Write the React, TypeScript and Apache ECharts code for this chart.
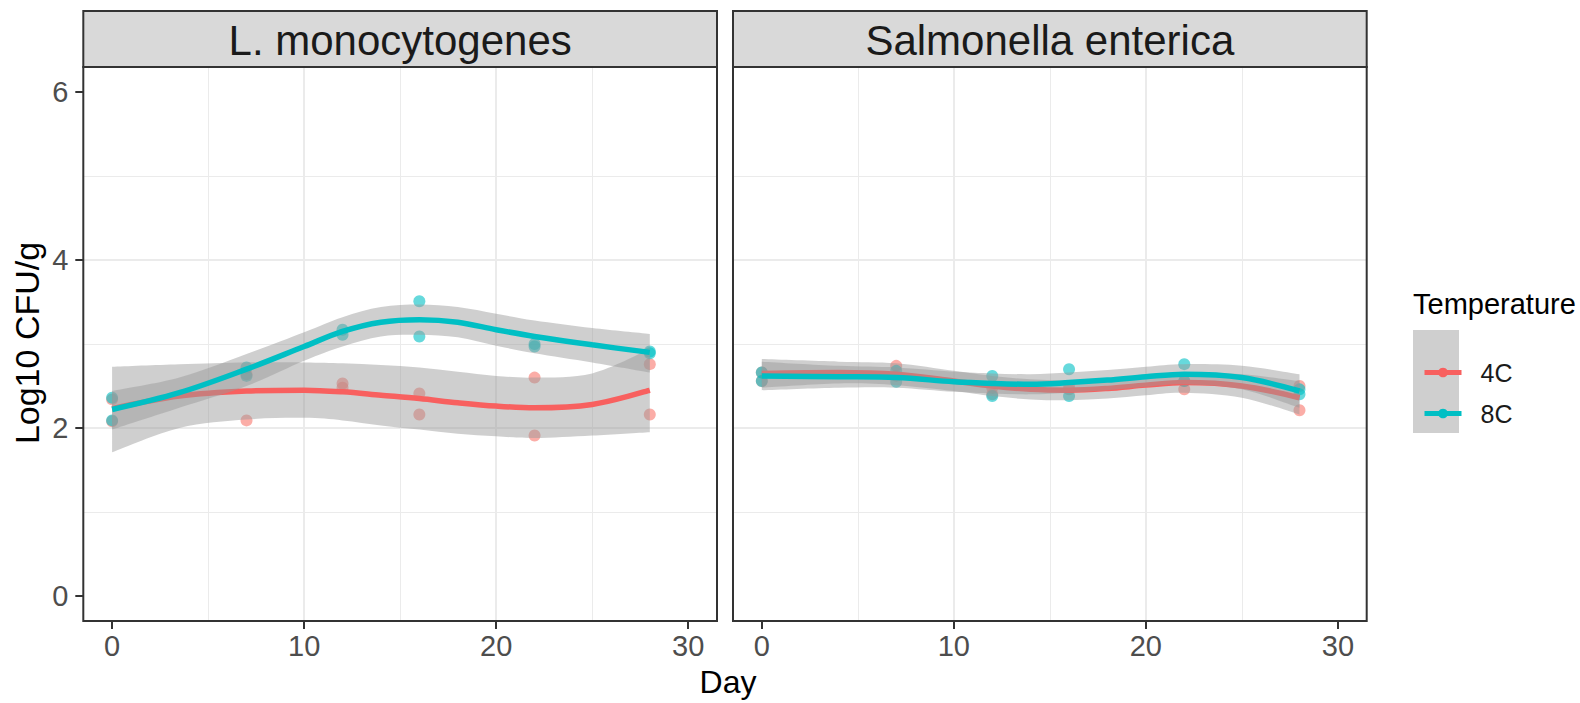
import React, { useEffect, useRef } from 'react';
import * as echarts from 'echarts';

// ---------- data ----------
const panels = ['L. monocytogenes', 'Salmonella enterica'];
const temperatures = ['4C', '8C'];
const xTicks = [0, 10, 20, 30];
const yTicks = [0, 2, 4, 6];
const xMinorTicks = [5, 15, 25];
const yMinorTicks = [1, 3, 5];

// observed points (two replicates per sampling day)
const pointDays = [0, 0, 7, 7, 12, 12, 16, 16, 22, 22, 28, 28];
const lm4Points = [2.34, 2.08, 2.09, 2.64, 2.53, 2.48, 2.41, 2.16, 2.60, 1.91, 2.76, 2.16];
const lm8Points = [2.36, 2.09, 2.72, 2.62, 3.17, 3.11, 3.51, 3.09, 3.00, 2.97, 2.91, 2.89];
const se4Points = [2.66, 2.56, 2.74, 2.62, 2.48, 2.40, 2.46, 2.50, 2.46, 2.56, 2.50, 2.21];
const se8Points = [2.66, 2.56, 2.68, 2.55, 2.62, 2.38, 2.70, 2.38, 2.76, 2.56, 2.46, 2.40];

// loess fits with confidence band
const lmFitDays = [0, 3.5, 7, 10, 12, 14, 16, 18, 20, 22, 25, 28];
const lm4Fit = [2.23, 2.38, 2.44, 2.45, 2.43, 2.39, 2.35, 2.30, 2.26, 2.24, 2.28, 2.45];
const lm4Lo = [1.71, 2.00, 2.10, 2.12, 2.09, 2.03, 1.98, 1.93, 1.90, 1.88, 1.91, 1.95];
const lm4Hi = [2.73, 2.76, 2.78, 2.78, 2.77, 2.75, 2.72, 2.67, 2.62, 2.60, 2.65, 2.94];
const lm8Fit = [2.22, 2.42, 2.70, 2.97, 3.15, 3.26, 3.29, 3.26, 3.17, 3.09, 2.99, 2.90];
const lm8Lo = [1.98, 2.24, 2.50, 2.80, 2.97, 3.09, 3.11, 3.08, 2.98, 2.89, 2.78, 2.66];
const lm8Hi = [2.44, 2.60, 2.88, 3.14, 3.32, 3.44, 3.47, 3.44, 3.36, 3.28, 3.19, 3.12];

const seFitDays = [0, 4, 7, 10, 12, 14, 16, 18, 20, 22, 25, 28];
const se4Fit = [2.65, 2.66, 2.64, 2.56, 2.50, 2.46, 2.45, 2.47, 2.51, 2.54, 2.50, 2.36];
const se4Lo = [2.48, 2.53, 2.51, 2.44, 2.38, 2.34, 2.33, 2.35, 2.39, 2.42, 2.36, 2.16];
const se4Hi = [2.82, 2.79, 2.77, 2.68, 2.62, 2.58, 2.57, 2.59, 2.63, 2.66, 2.64, 2.56];
const se8Fit = [2.62, 2.61, 2.60, 2.55, 2.53, 2.52, 2.54, 2.57, 2.61, 2.64, 2.60, 2.44];
const se8Lo = [2.45, 2.48, 2.48, 2.43, 2.41, 2.40, 2.42, 2.45, 2.49, 2.52, 2.46, 2.24];
const se8Hi = [2.79, 2.74, 2.72, 2.67, 2.65, 2.64, 2.66, 2.69, 2.73, 2.76, 2.74, 2.64];

// ---------- style ----------
const FONT = "'Liberation Sans', Arial, Helvetica, sans-serif";
const RED = '#F8766D';
const RED_LINE = '#F8605F';
const TEAL = '#00BFC4';
const RIBBON = 'rgba(153,153,153,0.47)';
const GRID_TOP = 67;
const GRID_H = 554;
const GRID_W = 633.7;
const GRID_LEFTS = [83.3, 733];
const STRIP_TOP = 11;

// smooth curve (Catmull-Rom as cubic Bezier) through pixel points, for drawing only
function curveSegments(pts: number[][]): string {
  let d = '';
  for (let i = 0; i < pts.length - 1; i++) {
    const p0 = pts[i - 1] || pts[i];
    const p1 = pts[i];
    const p2 = pts[i + 1];
    const p3 = pts[i + 2] || pts[i + 1];
    const c1x = p1[0] + (p2[0] - p0[0]) / 6;
    const c1y = p1[1] + (p2[1] - p0[1]) / 6;
    const c2x = p2[0] - (p3[0] - p1[0]) / 6;
    const c2y = p2[1] - (p3[1] - p1[1]) / 6;
    d += ` C ${c1x} ${c1y} ${c2x} ${c2y} ${p2[0]} ${p2[1]}`;
  }
  return d;
}

function ribbonSeries(gi: number, days: number[], lo: number[], hi: number[], z: number) {
  return {
    type: 'custom', xAxisIndex: gi, yAxisIndex: gi, z, silent: true,
    data: days.map((d, i) => [d, lo[i], hi[i]]),
    encode: { x: 0, y: [1, 2] },
    renderItem: (params: any, api: any) => {
      if (params.dataIndex !== 0) return { type: 'group', children: [] };
      const top = days.map((d, i) => api.coord([d, hi[i]]));
      const bot = days.map((d, i) => api.coord([d, lo[i]])).reverse();
      const pathData = `M ${top[0][0]} ${top[0][1]}` + curveSegments(top) +
        ` L ${bot[0][0]} ${bot[0][1]}` + curveSegments(bot) + ' Z';
      return {
        type: 'path',
        shape: { pathData },
        style: { fill: RIBBON },
      };
    },
  };
}

function buildSeries(gi: number, fitDays: number[], fits: number[][], los: number[][], his: number[][], pts: number[][]) {
  const out: any[] = [];
  // minor grid lines
  out.push({
    type: 'line', xAxisIndex: gi, yAxisIndex: gi, data: [[0, 0]], symbol: 'none', silent: true,
    lineStyle: { width: 0, opacity: 0 }, z: 1,
    markLine: {
      silent: true, symbol: ['none', 'none'], z: 1, label: { show: false },
      lineStyle: { color: '#EBEBEB', width: 1, type: 'solid' },
      emphasis: { disabled: true },
      data: [...yMinorTicks.map((v) => ({ yAxis: v })), ...xMinorTicks.map((v) => ({ xAxis: v }))],
    },
  });
  const pointColors = [RED, TEAL];
  const lineColors = [RED_LINE, TEAL];
  for (let k = 0; k < 2; k++) {
    out.push({
      type: 'scatter', name: temperatures[k] + ' obs', xAxisIndex: gi, yAxisIndex: gi,
      data: pointDays.map((d, i) => [d, pts[k][i]]),
      symbol: 'circle', symbolSize: 12, z: 2, silent: true,
      itemStyle: { color: pointColors[k], opacity: 0.6 },
    });
  }
  for (let k = 0; k < 2; k++) {
    out.push(ribbonSeries(gi, fitDays, los[k], his[k], 3 + k * 2));
    out.push({
      type: 'line', name: temperatures[k], xAxisIndex: gi, yAxisIndex: gi,
      data: fitDays.map((d, i) => [d, fits[k][i]]), smooth: 0.35,
      symbol: 'circle', symbolSize: 12, showSymbol: false, silent: true,
      itemStyle: { color: lineColors[k] },
      lineStyle: { color: lineColors[k], width: 5.5 }, z: 4 + k * 2,
    });
  }
  return out;
}

export default function App() {
  const ref = useRef<HTMLDivElement>(null);
  useEffect(() => {
    if (!ref.current) return;
    const chart = echarts.init(ref.current, undefined, { renderer: 'svg' });
    const xAxes = [0, 1].map((gi) => ({
      type: 'value', gridIndex: gi, min: -1.5, max: 31.5, splitNumber: 3,
      axisLine: { show: false, onZero: false },
      axisTick: { show: true, length: 8, customValues: xTicks, lineStyle: { color: '#333333', width: 2 } },
      axisLabel: { customValues: xTicks, fontSize: 29, color: '#4D4D4D', fontFamily: FONT, margin: 10 },
      splitLine: { show: true, showMinLine: false, showMaxLine: false, lineStyle: { color: '#EBEBEB', width: 2 } },
    }));
    const yAxes = [0, 1].map((gi) => ({
      type: 'value', gridIndex: gi, min: -0.3, max: 6.3, splitNumber: 3,
      axisLine: { show: false, onZero: false },
      axisTick: { show: gi === 0, length: 8, customValues: yTicks, lineStyle: { color: '#333333', width: 2 } },
      axisLabel: { show: gi === 0, customValues: yTicks, fontSize: 29, color: '#4D4D4D', fontFamily: FONT, margin: 15 },
      splitLine: { show: true, showMinLine: false, showMaxLine: false, lineStyle: { color: '#EBEBEB', width: 2 } },
    }));
    const series = [
      ...buildSeries(0, lmFitDays, [lm4Fit, lm8Fit], [lm4Lo, lm8Lo], [lm4Hi, lm8Hi], [lm4Points, lm8Points]),
      ...buildSeries(1, seFitDays, [se4Fit, se8Fit], [se4Lo, se8Lo], [se4Hi, se8Hi], [se4Points, se8Points]),
    ];
    const graphic: any[] = [];
    GRID_LEFTS.forEach((left, gi) => {
      graphic.push({
        type: 'rect', z: 100, silent: true,
        shape: { x: left, y: STRIP_TOP, width: GRID_W, height: GRID_TOP - STRIP_TOP },
        style: { fill: '#D9D9D9', stroke: '#333333', lineWidth: 2 },
      });
      graphic.push({
        type: 'text', z: 101, silent: true, x: left + GRID_W / 2, y: (STRIP_TOP + GRID_TOP) / 2 + 1,
        style: { text: panels[gi], fontSize: 42, fontFamily: FONT, fill: '#1A1A1A', align: 'center', verticalAlign: 'middle' },
      });
      graphic.push({
        type: 'rect', z: 100, silent: true,
        shape: { x: left, y: GRID_TOP, width: GRID_W, height: GRID_H },
        style: { fill: 'none', stroke: '#333333', lineWidth: 2 },
      });
    });
    graphic.push({
      type: 'text', silent: true, x: 27, y: 343, rotation: Math.PI / 2,
      style: { text: 'Log10 CFU/g', fontSize: 34, fontFamily: FONT, fill: '#000000', align: 'center', verticalAlign: 'middle' },
    });
    graphic.push({
      type: 'text', silent: true, x: 728, y: 682,
      style: { text: 'Day', fontSize: 32, fontFamily: FONT, fill: '#000000', align: 'center', verticalAlign: 'middle' },
    });
    graphic.push({
      type: 'text', silent: true, x: 1413, y: 304,
      style: { text: 'Temperature', fontSize: 29, fontFamily: FONT, fill: '#000000', align: 'left', verticalAlign: 'middle' },
    });
    graphic.push({
      type: 'rect', silent: true, z: 0,
      shape: { x: 1413, y: 330, width: 46, height: 103 },
      style: { fill: '#CFCFCF' },
    });
    chart.setOption({
      animation: false,
      textStyle: { fontFamily: FONT },
      grid: GRID_LEFTS.map((left) => ({ left, top: GRID_TOP, width: GRID_W, height: GRID_H, containLabel: false })),
      xAxis: xAxes,
      yAxis: yAxes,
      legend: {
        data: temperatures, orient: 'vertical', left: 1417, top: 355, itemWidth: 37, itemHeight: 12, itemGap: 16,
        selectedMode: false, z: 10,
        lineStyle: { width: 5 },
        textStyle: { fontSize: 25, color: '#1A1A1A', fontFamily: FONT, padding: [0, 0, 0, 14] },
      },
      graphic,
      series,
    });
    return () => chart.dispose();
  }, []);
  return <div ref={ref} style={{ position: 'absolute', left: 0, top: 0, width: 1580, height: 703, background: '#fff' }} />;
}
